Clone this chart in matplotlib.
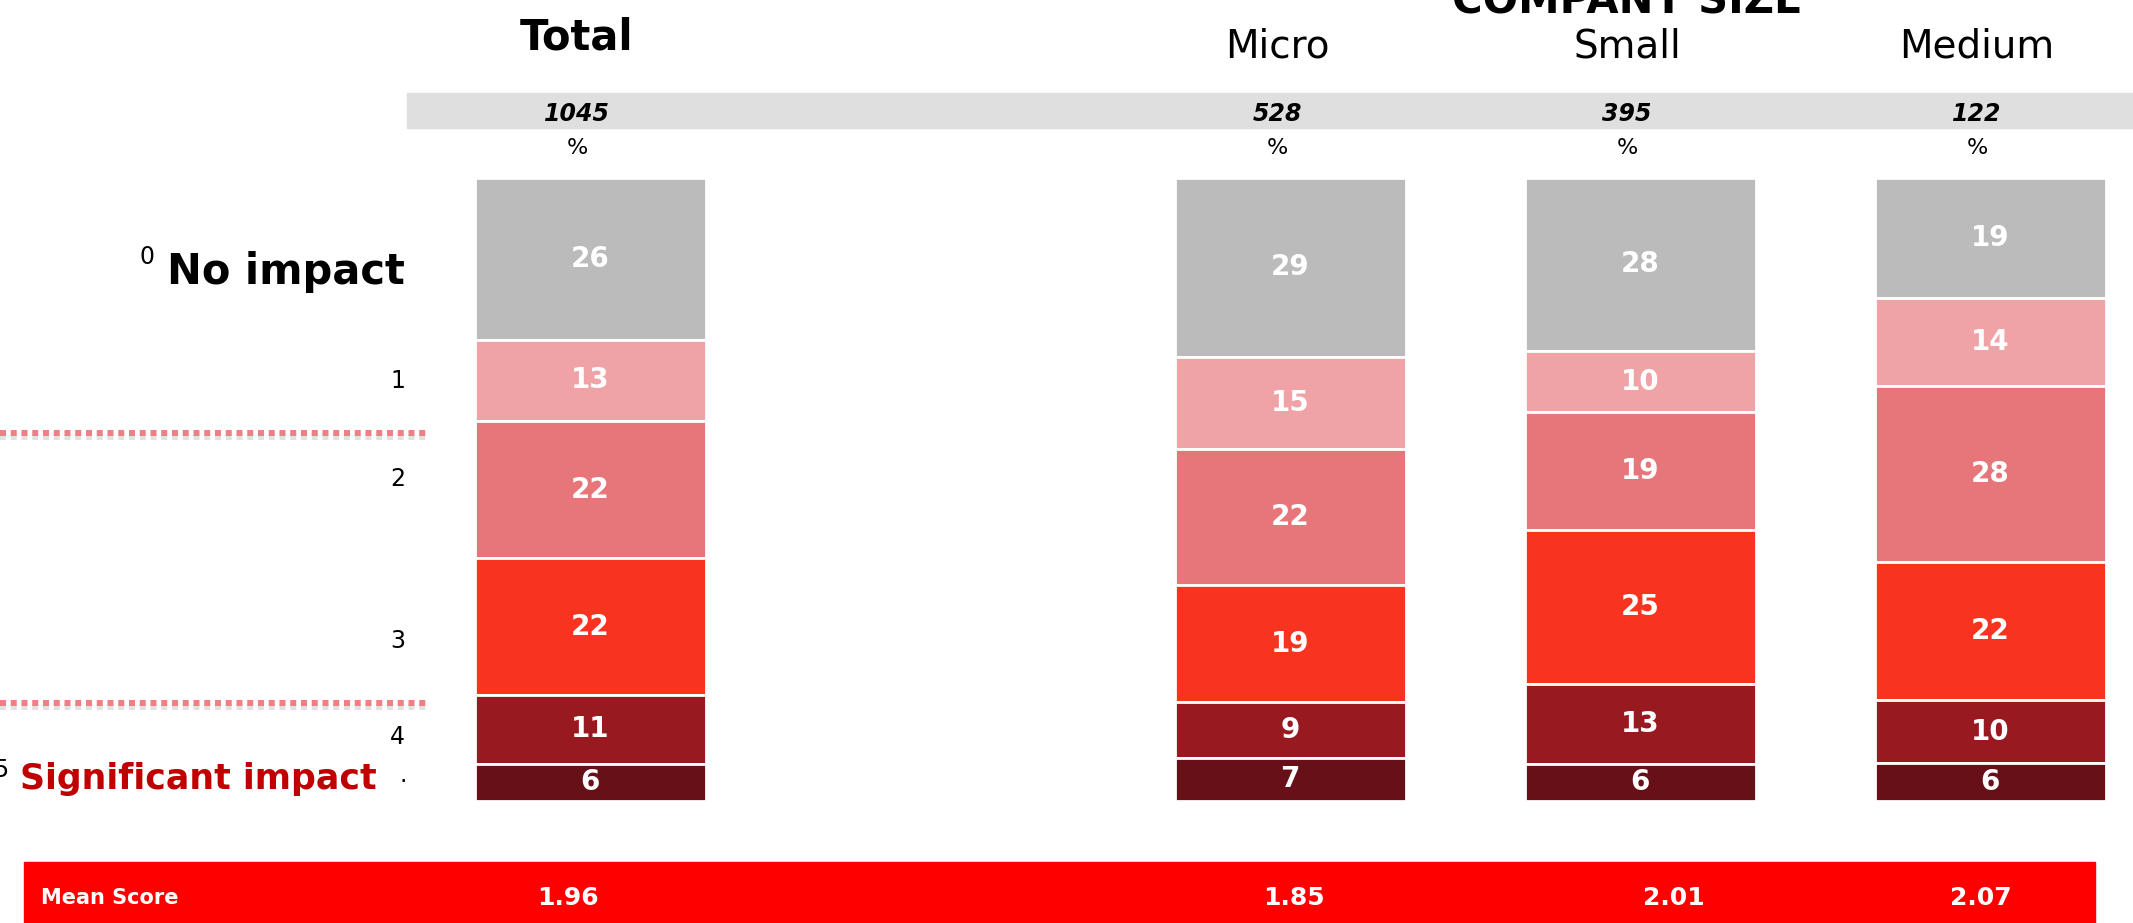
import matplotlib.pyplot as plt
import matplotlib.patheffects as pe
from matplotlib.patches import Rectangle
from matplotlib.transforms import blended_transform_factory
import numpy as np

# data
columns = ['Total', 'Micro', 'Small', 'Medium']
bases = [1045, 528, 395, 122]
levels = ['0', '1', '2', '3', '4', '5']
level_colors = ['#BBBBBB', '#EFA3A7', '#E6767A', '#F8331F', '#981A20', '#681017']
shares = {
    'Total':  [26, 13, 22, 22, 11, 6],
    'Micro':  [29, 15, 22, 19, 9, 7],
    'Small':  [28, 10, 19, 25, 13, 6],
    'Medium': [19, 14, 28, 22, 10, 6],
}
mean_scores = ['1.96', '1.85', '2.01', '2.07']

positions = [0, 2, 3, 4]
mean_offsets = [-0.063, 0.012, 0.097, -0.027]

W, H = 2133, 923
fig = plt.figure(figsize=(W / 100, H / 100), dpi=100)

def fx(px):
    return px / W

def fy(py):
    return 1 - py / H

# background bands (behind everything)
fig.patches.append(Rectangle((fx(407), fy(128)), 1 - fx(407), (128 - 92.5) / H,
                             transform=fig.transFigure, color='#DFDFDF', zorder=-5))
fig.patches.append(Rectangle((fx(24), 0), fx(2095) - fx(24), fy(862),
                             transform=fig.transFigure, color='#FF0000', zorder=-5))

# bars axis: 350 px per column unit, Total centred at x=590px
ax = fig.add_axes([0, fy(801), 1, (801 - 178) / H])
ax.set_xlim(-590 / 350, (W - 590) / 350)
ax.set_ylim(100, 0)
ax.axis('off')

for col, x in zip(columns, positions):
    vals = np.array(shares[col], dtype=float)
    norm = vals / vals.sum() * 100
    cum = np.concatenate([[0], np.cumsum(norm)[:-1]])
    for v, n, c, color in zip(vals, norm, cum, level_colors):
        ax.bar(x, n, bottom=c, width=0.66, color=color, edgecolor='white', linewidth=2)
        ax.text(x, c + n / 2, f'{v:.0f}', ha='center', va='center', color='white',
                fontsize=20, fontweight='bold')

tr = blended_transform_factory(ax.transData, fig.transFigure)

fig.text(0, 0, '')
hdr = dict(transform=tr, ha='center', va='baseline', zorder=5)
ax.text(3 - 0.037, fy(14), 'COMPANY SIZE', fontsize=30, fontweight='bold', **hdr)
for col, x, n in zip(columns, positions, bases):
    if col == 'Total':
        ax.text(x - 0.037, fy(49), col, fontsize=30, fontweight='bold', **hdr)
    else:
        ax.text(x - 0.037, fy(57), col, fontsize=28, **hdr)
    ax.text(x - 0.037, fy(121), str(n), fontsize=17, fontweight='bold', fontstyle='italic', **hdr)
    ax.text(x - 0.037, fy(154), '%', fontsize=16, **hdr)

# left scale labels
fig.text(fx(405), fy(272), 'No impact', ha='right', va='center', fontsize=30, fontweight='bold')
fig.text(fx(147), fy(257), '0', ha='center', va='center', fontsize=17)
level_y = [381, 479, 641, 737]
for lab, py in zip(levels[1:5], level_y):
    fig.text(fx(405), fy(py), lab, ha='right', va='center', fontsize=17)
fig.text(fx(377), fy(779), 'Significant impact', ha='right', va='center', fontsize=25,
         fontweight='bold', color='#C00000')
fig.text(fx(8), fy(770), '5', ha='right', va='center', fontsize=17)
fig.text(fx(403), fy(782), '·', ha='center', va='center', fontsize=17)

# dotted separators
shadow = [pe.SimpleLineShadow(offset=(0, -3), shadow_color='#AAAAAA', alpha=0.35), pe.Normal()]
for py, px_end in [(433, 430), (703, 426)]:
    fig.add_artist(plt.Line2D([0, fx(px_end)], [fy(py), fy(py)], transform=fig.transFigure,
                              color='#EE7F85', linewidth=4.3, linestyle=(0, (1, 0.8)),
                              dash_capstyle='butt', path_effects=shadow))

# mean score row
fig.text(fx(41), fy(898), 'Mean Score', ha='left', va='center', fontsize=15,
         fontweight='bold', color='white')
for x, off, m in zip(positions, mean_offsets, mean_scores):
    ax.text(x + off, fy(898), m, transform=tr, ha='center', va='center', fontsize=18,
            fontweight='bold', color='white', zorder=5)

fig.savefig('out.png', dpi=100)
